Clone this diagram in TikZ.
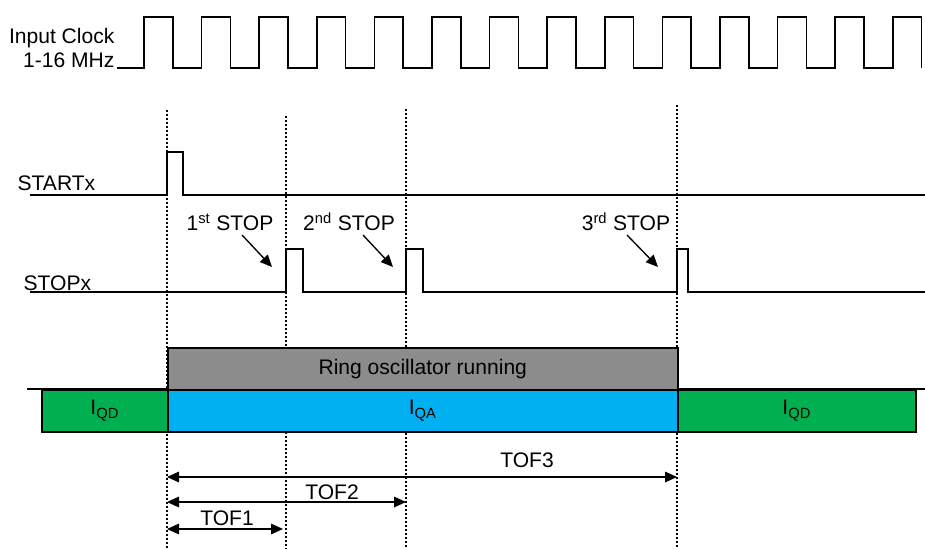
\documentclass[tikz,border=0pt]{standalone}
\usepackage{fontspec}
\setmainfont{Liberation Sans}
\usetikzlibrary{arrows.meta,positioning}
\definecolor{ringgray}{HTML}{8C8C8C}
\definecolor{qdgreen}{HTML}{00B050}
\definecolor{qablue}{HTML}{00B0F0}
\begin{document}
\begin{tikzpicture}[x=0.75pt,y=-0.75pt,
  sig/.style={draw=black,line width=1.1pt},
  mark line/.style={draw=black,line width=1.2pt,dash pattern=on 1.5pt off 1.5pt},
  lbl/.style={inner sep=1pt,font=\fontsize{15.8}{18}\selectfont},
  bar/.style={draw=black,line width=1.2pt,anchor=north west,inner sep=0pt,minimum height=31.5pt,font=\fontsize{15.8}{18}\selectfont},
  hint/.style={line width=1pt,-{Triangle[length=9pt,width=8pt]}},
  span/.style={line width=0.8pt,{Triangle[length=9pt,width=8pt]}-{Triangle[length=9pt,width=8pt]}}]
\useasboundingbox (0,0) rectangle (925,549);
% event times
\coordinate (t0) at (167,110);
\coordinate (t1) at (286,116);
\coordinate (t2) at (406,109);
\coordinate (t3) at (677,105);
\foreach \t in {t0,t1,t2,t3}
  \draw[mark line] (\t) -- (\t |- 0,549);
% input clock
\node[lbl,align=right,anchor=east] (clk) at (116,48) {Input Clock\\1-16 MHz};
\draw[sig] (117,68) \foreach \i in {0,...,13}{
  -- ({144+57.6*\i},68) -- ({144+57.6*\i},17) -- ({172.8+57.6*\i},17) -- ({172.8+57.6*\i},68)};
% start and stop signals
\node[lbl,anchor=west] (start) at (16,183) {STARTx};
\draw[sig] (30,195) -- (167,195) -- (167,152) -- (183,152) -- (183,195) -- (925,195);
\node[lbl,anchor=west] (stop) at (22,283) {STOPx};
\draw[sig] (30,292) -- (286,292) -- (286,249) -- (303,249) -- (303,292)
  -- (406,292) -- (406,249) -- (423,249) -- (423,292)
  -- (677,292) -- (677,249) -- (688,249) -- (688,292) -- (925,292);
\node[lbl] (stop1) at (230,222) {1\textsuperscript{st} STOP};
\node[lbl] (stop2) at (349,222) {2\textsuperscript{nd} STOP};
\node[lbl] (stop3) at (626,222) {3\textsuperscript{rd} STOP};
\coordinate (p1) at (272,267);
\coordinate (p2) at (393,267);
\coordinate (p3) at (658,267);
\draw[hint] (242,235) -- (p1);
\draw[hint] (363,235) -- (p2);
\draw[hint] (627,235) -- (p3);
% current bars
\draw[sig] (27,389) -- (925,389);
\node[bar,fill=ringgray,minimum width=382.5pt] (ring) at (167,347) {Ring oscillator running};
\node[bar,fill=qdgreen,minimum width=94.5pt] (qd1) at (41,389) {I\textsubscript{QD}};
\node[bar,fill=qablue,minimum width=382.5pt] (qa) at (167,389) {I\textsubscript{QA}};
\node[bar,fill=qdgreen,minimum width=178.5pt] (qd2) at (677,389) {I\textsubscript{QD}};
% time of flight spans
\draw[span] (t0 |- 0,477) -- (t3 |- 0,477);
\node[lbl] (tof3) at (527,460) {TOF3};
\draw[span] (t0 |- 0,502) -- (t2 |- 0,502);
\node[lbl] (tof2) at (332,492) {TOF2};
\draw[span] (t0 |- 0,529) -- (283,529);
\node[lbl] (tof1) at (227,518) {TOF1};
\end{tikzpicture}
\end{document}
